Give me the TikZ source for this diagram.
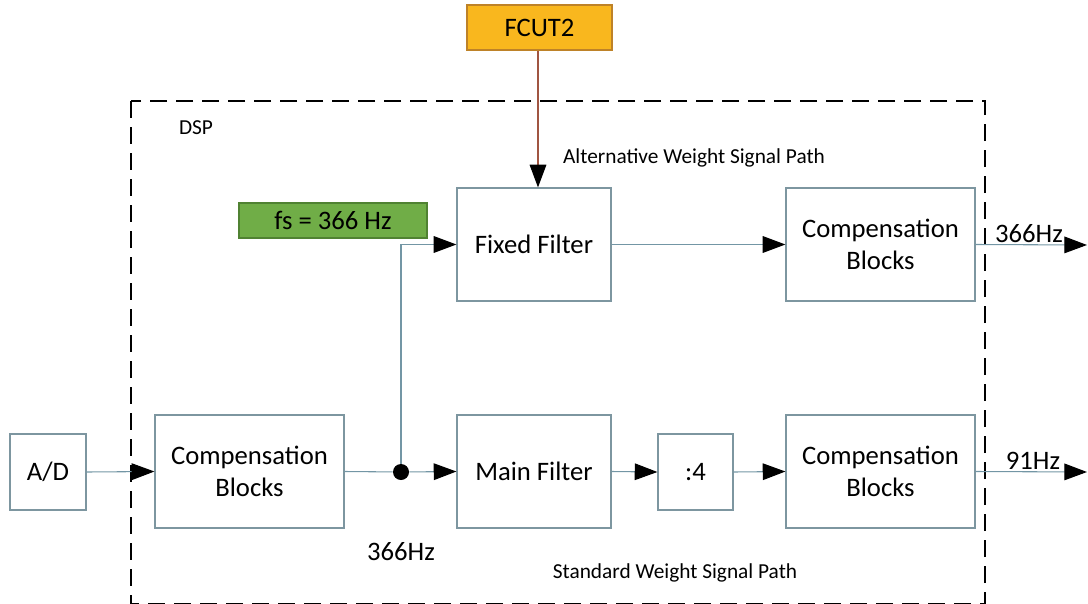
\documentclass[tikz,border=0pt]{standalone}
\usepackage{fontspec}
\setmainfont{Carlito}
\usepackage{xcolor}
\usetikzlibrary{arrows.meta}

\definecolor{boxline}{RGB}{125,150,160}
\definecolor{sigline}{RGB}{115,150,165}
\definecolor{cutline}{RGB}{160,85,65}
\definecolor{cutfill}{RGB}{249,183,30}
\definecolor{cutdraw}{RGB}{190,130,40}
\definecolor{fsfill}{RGB}{112,173,71}
\definecolor{fsdraw}{RGB}{80,130,50}

\begin{document}
\begin{tikzpicture}[x=0.75pt,y=0.75pt,yscale=-1,xscale=1,
  blk/.style={draw=boxline,line width=0.9pt,fill=white,align=center,inner sep=0pt,
    font=\fontsize{20}{24}\selectfont},
  wide/.style={blk,minimum width=141.75pt,minimum height=84.75pt},
  filt/.style={blk,minimum width=115.5pt,minimum height=84.75pt},
  small/.style={blk,minimum width=57pt,minimum height=57pt},
  lbl/.style={inner sep=0.75pt,font=\fontsize{20}{24}\selectfont},
  note/.style={inner sep=0.75pt,font=\fontsize{16}{19}\selectfont},
  sig/.style={draw=sigline,line width=0.8pt,-{Triangle[length=17pt,width=12.5pt,color=black]}}]
\path[use as bounding box] (0,0) rectangle (1088,603);
\clip (0,0) rectangle (1088,603);

%Shape: Rectangle (DSP frame)
\draw [line width=2.2pt,dash pattern=on 12.5pt off 7pt] (131,101) rectangle (985,604);

%Shape: Rectangle
\node [blk,draw=cutdraw,fill=cutfill,minimum width=108.75pt,minimum height=33.75pt] (fcut) at (539.5,27.5) {FCUT2};
%Shape: Rectangle
\node [blk,draw=fsdraw,fill=fsfill,minimum width=141pt,minimum height=26.25pt] (fs) at (333,220.5) {fs = 366 Hz};
%Shape: Rectangle
\node [filt] (fixed) at (534,244.5) {Fixed Filter};
%Shape: Rectangle
\node [wide] (compA) at (880.5,244.5) {Compensation\\Blocks};
%Shape: Rectangle
\node [small] (ad) at (48,472) {A/D};
%Shape: Rectangle
\node [wide] (compIn) at (249.5,471.5) {Compensation\\Blocks};
%Shape: Rectangle
\node [filt] (main) at (534,471.5) {Main Filter};
%Shape: Rectangle
\node [small,minimum width=56.25pt] (div) at (695.5,472) {:4};
%Shape: Rectangle
\node [wide] (compB) at (880.5,471.5) {Compensation\\Blocks};

%Shape: Circle
\node [circle,fill=black,inner sep=0pt,minimum size=12pt] (tap) at (401,472) {};
\coordinate (outA) at (1087,245);
\coordinate (outB) at (1087,472);

%Straight Lines
\draw [sig,draw=cutline] (fcut.south -| 538,0) -- (fixed.north -| 538,0);
\draw [sig] (ad.east) -- (compIn.west);
\draw [draw=sigline,line width=0.8pt] (compIn.east) -- (tap);
\draw [sig] (tap) -- (main.west);
\draw [sig] (tap) |- (fixed.west);
\draw [sig] (fixed.east) -- (compA.west);
\draw [sig] (main.east) -- (div.west);
\draw [sig] (div.east) -- (compB.west);
\draw [sig] (compA.east) -- (outA);
\draw [sig] (compB.east) -- (outB);

% Text Node
\node [note] (dsp) at (196,128) {DSP};
% Text Node
\node [note] (altPath) at (694,158) {Alternative Weight Signal Path};
% Text Node
\node [note] (stdPath) at (675,573) {Standard Weight Signal Path};
% Text Node
\node [lbl,anchor=south] (rateA) at (1029,244) {366Hz};
% Text Node
\node [lbl,anchor=south] (rateB) at (1033,471) {91Hz};
% Text Node
\node [lbl] (rateIn) at (401,552) {366Hz};

\end{tikzpicture}
\end{document}
